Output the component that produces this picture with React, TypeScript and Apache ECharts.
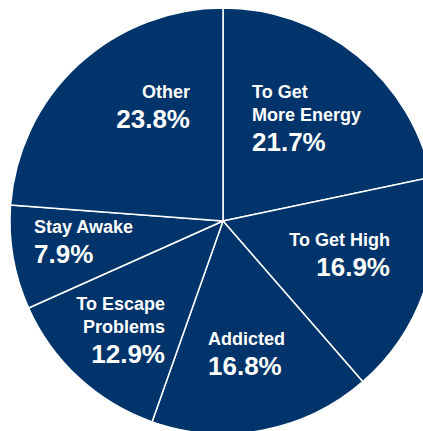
import React, { useEffect, useRef } from "react";
import * as echarts from "echarts";

const categories = [
  "To Get\nMore Energy",
  "To Get High",
  "Addicted",
  "To Escape\nProblems",
  "Stay Awake",
  "Other",
];
const values = [21.7, 16.9, 16.8, 12.9, 7.9, 23.8];

// label block anchor (layout only)
const labelAnchors = [
  { x: 252, y: 80, align: "left" },
  { x: 390, y: 228, align: "right" },
  { x: 208, y: 327, align: "left" },
  { x: 165, y: 292, align: "right" },
  { x: 34, y: 215, align: "left" },
  { x: 190, y: 80, align: "right" },
];

const NAVY = "#01346A";

export default function App() {
  const ref = useRef<HTMLDivElement>(null);
  useEffect(() => {
    if (!ref.current) return;
    const chart = echarts.init(ref.current, undefined, { renderer: "svg" });
    chart.setOption({
      animation: false,
      backgroundColor: "#ffffff",
      series: [
        {
          type: "pie",
          center: [223, 221],
          radius: 213,
          startAngle: 90,
          clockwise: true,
          avoidLabelOverlap: false,
          itemStyle: { color: NAVY, borderColor: "#ffffff", borderWidth: 1.5 },
          emphasis: { disabled: true },
          label: {
            show: true,
            position: "inside",
            color: "#ffffff",
            fontFamily: "Liberation Sans, Arial, sans-serif",
            fontWeight: "bold",
            formatter: (p: any) => {
              const lines = String(p.name)
                .split("\n")
                .map((l: string) => `{n|${l}}`)
                .join("\n");
              return `${lines}\n{v|${Number(p.value).toFixed(1)}%}`;
            },
            rich: {
              n: {
                fontSize: 18,
                lineHeight: 23,
                fontWeight: "bold",
                color: "#ffffff",
                fontFamily: "Liberation Sans, Arial, sans-serif",
              },
              v: {
                fontSize: 26,
                lineHeight: 32,
                fontWeight: "bold",
                color: "#ffffff",
                fontFamily: "Liberation Sans, Arial, sans-serif",
              },
            },
          },
          labelLine: { show: false },
          labelLayout: (params: any) => {
            const a = labelAnchors[params.dataIndex];
            return { x: a.x, y: a.y, align: a.align, verticalAlign: "top" };
          },
          data: categories.map((name, i) => ({ name, value: values[i] })),
        },
      ],
    });
    return () => chart.dispose();
  }, []);
  return (
    <div
      ref={ref}
      style={{ position: "absolute", left: 0, top: 0, width: 423, height: 431 }}
    />
  );
}
